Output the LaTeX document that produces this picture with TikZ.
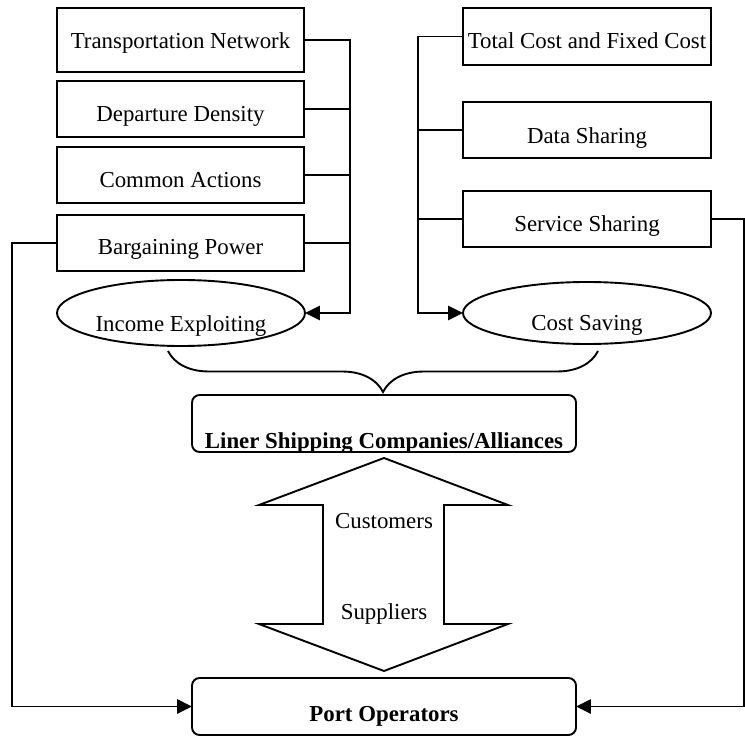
\documentclass[tikz,border=0pt]{standalone}
\usepackage{fontspec}
\setmainfont{Liberation Serif}
\usetikzlibrary{arrows.meta,shapes.geometric,decorations.pathreplacing}
\newcommand\pxu{0.525pt}
\begin{document}
\begin{tikzpicture}[x=0.525pt,y=-0.525pt,
  line width=1pt,
  every node/.style={font=\fontsize{12}{14}\selectfont},
  factor/.style={draw,rectangle,inner sep=0pt,outer sep=0pt,
    minimum width=247*\pxu,minimum height=56*\pxu},
  goal/.style={draw,ellipse,inner sep=0pt,outer sep=0pt,
    minimum width=248*\pxu,minimum height=66*\pxu},
  party/.style={draw,rectangle,rounded corners=4pt,inner sep=0pt,outer sep=0pt,
    minimum width=384*\pxu,minimum height=57*\pxu},
  txt/.style={anchor=base,inner sep=0pt},
  arr/.style={-{Triangle[length=7.8pt,width=7.4pt]}},
]
\useasboundingbox (0,0) rectangle (745,736);

% income side factors
\node[factor,minimum height=64*\pxu] (TN) at (180.5,40) {};
\node[factor] (DD) at (180.5,109) {};
\node[factor] (CA) at (180.5,175) {};
\node[factor] (BP) at (180.5,243) {};
\node[goal] (IE) at (181,313) {};
\node[txt] (TNt) at (180.5,49) {Transportation Network};
\node[txt] (DDt) at (180.5,121.5) {Departure Density};
\node[txt] (CAt) at (180.5,188) {Common Actions};
\node[txt] (BPt) at (180.5,255) {Bargaining Power};
\node[txt] (IEt) at (181,331.5) {Income Exploiting};

% cost side factors
\node[factor,minimum width=248*\pxu,minimum height=57*\pxu] (TC) at (587,36.5) {};
\node[factor,minimum width=248*\pxu] (DS) at (587,130) {};
\node[factor,minimum width=248*\pxu] (SS) at (587,219) {};
\node[goal,minimum height=62*\pxu] (CS) at (587,313) {};
\node[txt] (TCt) at (587,48.3) {Total Cost and Fixed Cost};
\node[txt] (DSt) at (587,143.3) {Data Sharing};
\node[txt] (SSt) at (587,231.7) {Service Sharing};
\node[txt] (CSt) at (587,330.5) {Cost Saving};

% the two parties
\node[party] (LS) at (384,423.5) {};
\node[txt,font=\fontsize{12}{14}\selectfont\bfseries] (LSt) at (384,448.3) {Liner Shipping Companies/Alliances};
\node[party] (PO) at (384,706.5) {};
\node[txt,font=\fontsize{12}{14}\selectfont\bfseries] (POt) at (384,721.7) {Port Operators};

% bus lines
\coordinate (busL) at (350,0);
\coordinate (busR) at (418,0);
\coordinate (edgeL) at (12,0);
\coordinate (edgeR) at (744,0);

\draw[arr] (TN.east) -- (TN.east -| busL) |- (IE.east);
\draw (DD.east) -- (DD.east -| busL);
\draw (CA.east) -- (CA.east -| busL);
\draw (BP.east) -- (BP.east -| busL);

\draw[arr] (TC.west) -- (TC.west -| busR) |- (CS.west);
\draw (DS.west) -- (DS.west -| busR);
\draw (SS.west) -- (SS.west -| busR);

\draw[arr] (BP.west) -- (BP.west -| edgeL) |- (PO.west);
\draw[arr] (SS.east) -- (SS.east -| edgeR) |- (PO.east);

% brace gathering both goals
\draw[decorate,decoration={brace,mirror,amplitude=41*\pxu}] (168,351) -- (598,351);

% two-way relation between the parties
\draw[line join=miter] (384,458) -- (508,505) -- (444,505) -- (444,624) -- (508,624)
  -- (384,671) -- (259,624) -- (323,624) -- (323,505) -- (259,505) -- cycle;
\node[txt] (CUt) at (384,528.3) {Customers};
\node[txt] (SUt) at (384,619) {Suppliers};
\end{tikzpicture}
\end{document}
